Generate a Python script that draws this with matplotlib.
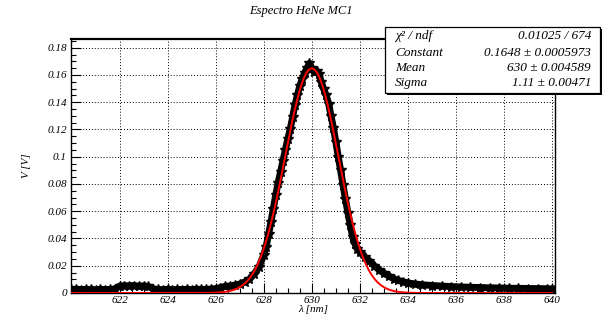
import numpy as np
import matplotlib.pyplot as plt
from matplotlib.ticker import MultipleLocator, FixedLocator

wavelength = [
    620.0, 620.2, 620.4, 620.6, 620.8, 621.0, 621.2, 621.4, 621.6, 621.8,
    622.0, 622.2, 622.4, 622.6, 622.8, 623.0, 623.2, 623.4, 623.6, 623.8,
    624.0, 624.2, 624.4, 624.6, 624.8, 625.0, 625.2, 625.4, 625.6, 625.8,
    626.0, 626.2, 626.4, 626.6, 626.8, 627.0, 627.2, 627.4, 627.6, 627.8,
    628.0, 628.1, 628.2, 628.3, 628.4, 628.5, 628.6, 628.7, 628.8, 628.9,
    629.0, 629.1, 629.2, 629.3, 629.4, 629.5, 629.6, 629.7, 629.8, 629.9,
    630.0, 630.1, 630.2, 630.3, 630.4, 630.5, 630.6, 630.7, 630.8, 630.9,
    631.0, 631.1, 631.2, 631.3, 631.4, 631.5, 631.6, 631.7, 631.8, 631.9,
    632.0, 632.2, 632.4, 632.6, 632.8, 633.0, 633.2, 633.4, 633.6, 633.8,
    634.0, 634.3, 634.6, 635.0, 635.4, 635.8, 636.2, 636.6, 637.0, 637.4,
    637.8, 638.2, 638.6, 639.0, 639.4, 639.8, 640.0,
]
voltage = [
    0.0026, 0.0028, 0.0025, 0.0027, 0.0026, 0.0024, 0.0027, 0.0025, 0.0026, 0.0030,
    0.0050, 0.0054, 0.0052, 0.0055, 0.0050, 0.0053, 0.0048, 0.0030, 0.0026, 0.0025,
    0.0027, 0.0024, 0.0026, 0.0025, 0.0027, 0.0025, 0.0028, 0.0026, 0.0027, 0.0029,
    0.0032, 0.0040, 0.0048, 0.0052, 0.0058, 0.0066, 0.0080, 0.0100, 0.0140, 0.0190,
    0.0280, 0.0340, 0.0430, 0.0520, 0.0620, 0.0720, 0.0810, 0.0890, 0.0970, 0.1050,
    0.1130, 0.1200, 0.1290, 0.1380, 0.1450, 0.1520, 0.1570, 0.1615, 0.1650, 0.1685,
    0.1650, 0.1620, 0.1630, 0.1610, 0.1545, 0.1495, 0.1450, 0.1390, 0.1300, 0.1210,
    0.1110, 0.1000, 0.0900, 0.0790, 0.0690, 0.0590, 0.0500, 0.0410, 0.0360, 0.0325,
    0.0300, 0.0265, 0.0235, 0.0200, 0.0170, 0.0145, 0.0125, 0.0105, 0.0092, 0.0082,
    0.0074, 0.0066, 0.0060, 0.0055, 0.0051, 0.0047, 0.0044, 0.0042, 0.0040, 0.0038,
    0.0037, 0.0035, 0.0034, 0.0033, 0.0032, 0.0031, 0.0030,
]

# Gaussian fit parameters (from the stats box)
fit_const = 0.1648
fit_mean = 630.0
fit_sigma = 1.11

stat_names = ["χ² / ndf", "Constant", "Mean", "Sigma"]
stat_values = ["0.01025 / 674", "0.1648 ± 0.0005973",
               "630 ± 0.004589", "1.11 ± 0.00471"]

plt.rcParams["font.family"] = ["Liberation Serif", "DejaVu Serif"]
plt.rcParams["font.style"] = "italic"

fig = plt.figure(figsize=(6.02, 3.2), dpi=100)
ax = fig.add_axes([71 / 602, 27 / 320, 484 / 602, 254 / 320])

# data band
ax.plot(wavelength, voltage, color="black", lw=5, zorder=3)
ax.plot(wavelength, voltage, ls="none", marker="*", ms=7, color="black", zorder=3)

# fit curve
xf = np.linspace(620.0, 640.0, 800)
yf = fit_const * np.exp(-0.5 * ((xf - fit_mean) / fit_sigma) ** 2)
ax.plot(xf, yf, color="red", lw=1.4, zorder=4)

ax.set_xlim(619.98, 640.12)
ax.set_ylim(0, 0.1864)

ax.xaxis.set_major_locator(FixedLocator(np.arange(622, 641, 2)))
ax.xaxis.set_minor_locator(MultipleLocator(0.5))
ax.yaxis.set_major_locator(MultipleLocator(0.02))
ax.yaxis.set_minor_locator(MultipleLocator(0.005))
ax.yaxis.set_major_formatter(plt.FuncFormatter(lambda v, p: f"{v:g}"))

ax.tick_params(which="both", direction="in", top=False, right=False,
               labelsize=8, colors="black")
ax.tick_params(which="major", length=7, width=0.8)
ax.tick_params(which="minor", length=3.5, width=0.8)
ax.tick_params(axis="y", pad=3)
ax.tick_params(axis="x", pad=2)

ax.grid(True, which="major", ls=(0, (1, 2)), color="black", lw=0.7)
ax.set_axisbelow(True)
for s in ax.spines.values():
    s.set_linewidth(1.0)
ax.spines["top"].set_linewidth(1.6)

ax.set_xlabel("λ [nm]", fontsize=8, labelpad=0)
ax.set_ylabel("V [V]", fontsize=8, labelpad=12)

fig.text(0.5, 0.965, "Espectro HeNe MC1", ha="center", va="center", fontsize=9)

# stats box with a small shadow
bx0, by0, bx1, by1 = 385 / 602, 1 - 27 / 320, 600 / 602, 1 - 93 / 320
fig.patches.append(plt.Rectangle((bx0 + 0.003, by1 - 0.006), bx1 - bx0, by0 - by1,
                                 transform=fig.transFigure, facecolor="black",
                                 edgecolor="none", zorder=5))
fig.patches.append(plt.Rectangle((bx0, by1), bx1 - bx0, by0 - by1,
                                 transform=fig.transFigure, facecolor="white",
                                 edgecolor="black", lw=0.9, zorder=6))
row_y = [36, 53, 68, 83]
for name, val, ry in zip(stat_names, stat_values, row_y):
    fig.text(395 / 602, 1 - ry / 320, name, ha="left", va="center", fontsize=9.5, zorder=7)
    fig.text(591 / 602, 1 - ry / 320, val, ha="right", va="center", fontsize=9.5, zorder=7)

fig.savefig("out.png", dpi=100)
